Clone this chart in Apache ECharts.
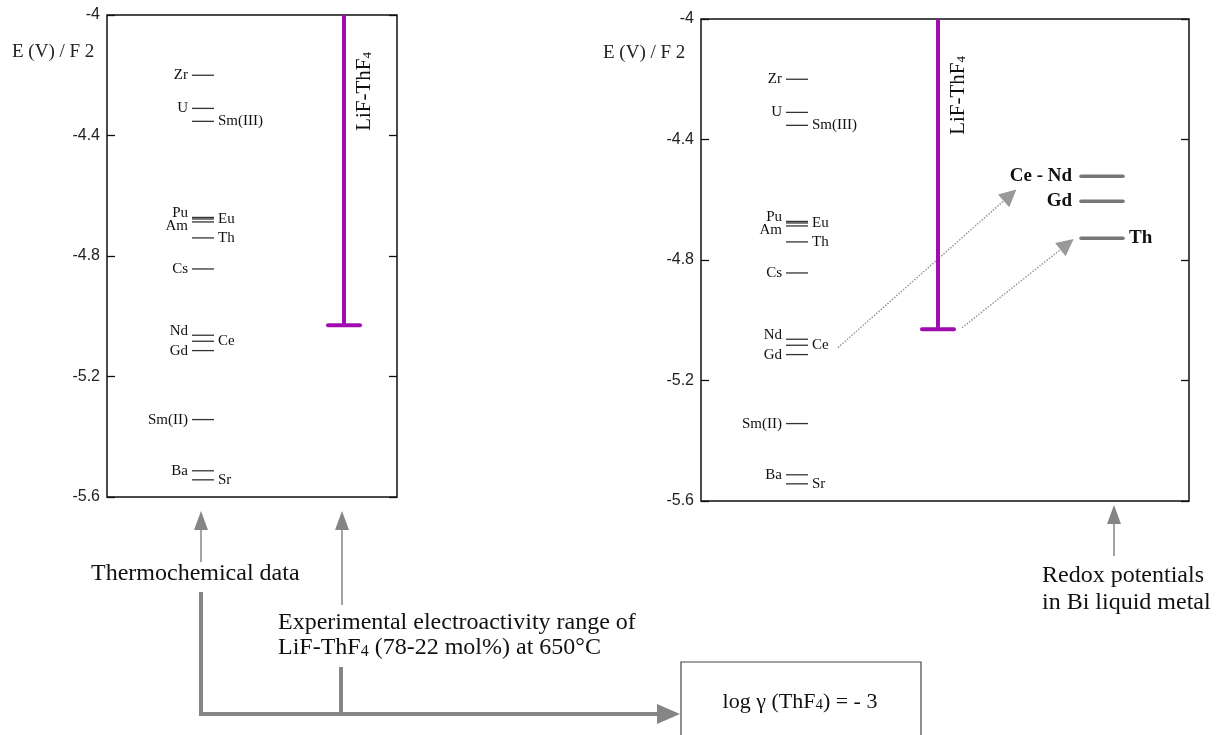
<!DOCTYPE html>
<html>
<head>
<meta charset="utf-8">
<script src="https://cdn.jsdelivr.net/npm/echarts@6/dist/echarts.min.js"></script>
<style>
  html, body { margin: 0; padding: 0; background: #fff; }
  #chart { width: 1218px; height: 735px; }
</style>
</head>
<body>
<div id="chart"></div>
<script>
// thermochemical redox potentials, E (V) / F2
const elements = ['Zr', 'U', 'Sm(III)', 'Pu', 'Eu', 'Am', 'Th', 'Cs', 'Nd', 'Ce', 'Gd', 'Sm(II)', 'Ba', 'Sr']
const potentials = [-4.20, -4.31, -4.353, -4.672, -4.677, -4.687, -4.74, -4.843, -5.063, -5.083, -5.114, -5.343, -5.513, -5.543]
// experimental electroactivity range of LiF-ThF4 (top, bottom)
const rangeLimits = [-4.0, -5.03]
// redox potentials in Bi liquid metal
const biElements = ['Ce - Nd', 'Gd', 'Th']
const biPotentials = [-4.522, -4.605, -4.728]
const yMin = -5.6
const yMax = -4
const yStep = 0.4

// layout (pixels from each panel's left edge)
const levelX = [85, 107]
const rangeX = 237
const capHalf = 16
const biX = [380, 422]
const rightLabels = ['Sm(III)', 'Eu', 'Th', 'Ce', 'Sr']
const labelShift = { Pu: -4, Am: 4, Nd: -4 }
const purple = '#a00cb0'
const gray = '#858585'
const serif = '"Liberation Serif", "DejaVu Serif", serif'

const grids = [
  { left: 107, top: 15, width: 290, height: 482 },
  { left: 701, top: 19, width: 488, height: 482 }
]

function levelItem (params, api) {
  const i = api.value(0)
  const v = api.value(1)
  const name = elements[i]
  const p0 = api.coord([levelX[0], v])
  const p1 = api.coord([levelX[1], v])
  const onRight = rightLabels.includes(name)
  return {
    type: 'group',
    children: [
      { type: 'line', shape: { x1: p0[0], y1: p0[1], x2: p1[0], y2: p1[1] }, style: { stroke: '#333', lineWidth: 1.3 } },
      {
        type: 'text',
        x: onRight ? p1[0] + 4 : p0[0] - 4,
        y: p0[1] + (labelShift[name] || 0),
        style: { text: name, fill: '#111', font: '15px ' + serif, align: onRight ? 'left' : 'right', verticalAlign: 'middle' }
      }
    ]
  }
}

function rangeItem (params, api) {
  const top = api.coord([rangeX, api.value(0)])
  const bot = api.coord([rangeX, api.value(1)])
  return {
    type: 'group',
    children: [
      { type: 'line', shape: { x1: top[0], y1: top[1], x2: bot[0], y2: bot[1] }, style: { stroke: purple, lineWidth: 4 } },
      { type: 'line', shape: { x1: bot[0] - capHalf, y1: bot[1], x2: bot[0] + capHalf, y2: bot[1] }, style: { stroke: purple, lineWidth: 4, lineCap: 'round' } },
      {
        type: 'text',
        x: top[0] + 20,
        y: top[1] + 37,
        rotation: Math.PI / 2,
        style: {
          text: 'LiF-ThF{s|4}',
          fontFamily: serif,
          fontSize: 21,
          fill: '#111',
          align: 'right',
          verticalAlign: 'middle',
          rich: { s: { fontFamily: serif, fontSize: 13, verticalAlign: 'bottom', fill: '#111' } }
        }
      }
    ]
  }
}

function biItem (params, api) {
  const i = api.value(0)
  const v = api.value(1)
  const name = biElements[i]
  const p0 = api.coord([biX[0], v])
  const p1 = api.coord([biX[1], v])
  const onRight = name === 'Th'
  return {
    type: 'group',
    children: [
      { type: 'line', shape: { x1: p0[0], y1: p0[1], x2: p1[0], y2: p1[1] }, style: { stroke: '#777', lineWidth: 3.5, lineCap: 'round' } },
      {
        type: 'text',
        x: onRight ? p1[0] + 6 : p0[0] - 9,
        y: p0[1],
        style: { text: name, fill: '#111', font: 'bold 19px ' + serif, align: onRight ? 'left' : 'right', verticalAlign: 'middle' }
      }
    ]
  }
}

const xAxis = grids.map((g, i) => ({ gridIndex: i, type: 'value', min: 0, max: g.width, show: false }))
const yAxis = []
grids.forEach((g, i) => {
  yAxis.push({
    gridIndex: i,
    type: 'value',
    min: yMin,
    max: yMax,
    interval: yStep,
    axisLine: { show: false },
    axisTick: { show: true, inside: true, length: 8, lineStyle: { color: '#111', width: 1.3 } },
    splitLine: { show: false },
    axisLabel: { margin: 7, color: '#222', fontFamily: '"Liberation Sans", Arial, sans-serif', fontSize: 16 }
  })
  yAxis.push({
    gridIndex: i,
    type: 'value',
    position: 'right',
    min: yMin,
    max: yMax,
    interval: yStep,
    axisLine: { show: false },
    axisTick: { show: true, inside: true, length: 8, lineStyle: { color: '#111', width: 1.3 } },
    splitLine: { show: false },
    axisLabel: { show: false }
  })
})

const levelData = potentials.map((v, i) => [i, v])
const series = []
grids.forEach((g, i) => {
  series.push({ type: 'custom', xAxisIndex: i, yAxisIndex: i * 2, data: levelData, renderItem: levelItem, silent: true })
  series.push({ type: 'custom', xAxisIndex: i, yAxisIndex: i * 2, data: [rangeLimits], renderItem: rangeItem, silent: true, z: 3 })
})
series.push({ type: 'custom', xAxisIndex: 1, yAxisIndex: 2, data: biPotentials.map((v, i) => [i, v]), renderItem: biItem, silent: true })

const ceValue = potentials[elements.indexOf('Ce')]
series.push({
  type: 'lines',
  coordinateSystem: 'cartesian2d',
  xAxisIndex: 1,
  yAxisIndex: 2,
  silent: true,
  symbol: ['none', 'triangle'],
  symbolSize: 17,
  lineStyle: { type: 'dotted', width: 1.5, color: '#999', opacity: 1 },
  itemStyle: { color: gray },
  z: 1,
  data: [
    { coords: [[137, ceValue - 0.008], [309, biPotentials[0] - 0.063]] },
    { coords: [[261, rangeLimits[1] + 0.005], [366, biPotentials[2] - 0.02]] }
  ]
})

function upArrow (x, tipY, tailY) {
  return [
    { type: 'line', shape: { x1: x, y1: tipY + 16, x2: x, y2: tailY }, style: { stroke: gray, lineWidth: 1.5 } },
    { type: 'polygon', shape: { points: [[x, tipY], [x - 7, tipY + 19], [x + 7, tipY + 19]] }, style: { fill: gray } }
  ]
}

const subRich = { s: { fontFamily: serif, fontSize: 16, verticalAlign: 'bottom', fill: '#111' } }

const graphic = [
  { type: 'text', x: 12, y: 52, style: { text: 'E (V) / F 2', font: '19px ' + serif, fill: '#222', verticalAlign: 'middle' } },
  { type: 'text', x: 603, y: 53, style: { text: 'E (V) / F 2', font: '19px ' + serif, fill: '#222', verticalAlign: 'middle' } },
  ...upArrow(201, 511, 562),
  ...upArrow(342, 511, 605),
  ...upArrow(1114, 505, 556),
  { type: 'text', x: 91, y: 574, style: { text: 'Thermochemical data', font: '24px ' + serif, fill: '#111', verticalAlign: 'middle' } },
  {
    type: 'text',
    x: 278,
    y: 610,
    style: {
      text: 'Experimental electroactivity range of\nLiF-ThF{s|4} (78-22 mol%) at 650°C',
      fontFamily: serif,
      fontSize: 24,
      lineHeight: 25,
      fill: '#111',
      verticalAlign: 'top',
      rich: subRich
    }
  },
  {
    type: 'text',
    x: 1042,
    y: 562,
    style: { text: 'Redox potentials\nin Bi liquid metal', fontFamily: serif, fontSize: 24, lineHeight: 27, fill: '#111', verticalAlign: 'top' }
  },
  { type: 'polyline', shape: { points: [[201, 592], [201, 714], [660, 714]] }, style: { stroke: gray, lineWidth: 4, fill: null } },
  { type: 'line', shape: { x1: 341, y1: 667, x2: 341, y2: 714 }, style: { stroke: gray, lineWidth: 4 } },
  { type: 'polygon', shape: { points: [[680, 714], [657, 704], [657, 724]] }, style: { fill: gray } },
  { type: 'rect', shape: { x: 681, y: 662, width: 240, height: 90 }, style: { fill: 'none', stroke: '#444', lineWidth: 1.2 } },
  {
    type: 'text',
    x: 800,
    y: 702,
    style: {
      text: 'log γ (ThF{s|4}) = - 3',
      fontFamily: serif,
      fontSize: 22,
      fill: '#111',
      align: 'center',
      verticalAlign: 'middle',
      rich: { s: { fontFamily: serif, fontSize: 15, verticalAlign: 'bottom', fill: '#111' } }
    }
  }
]

const chart = echarts.init(document.getElementById('chart'))
chart.setOption({
  animation: false,
  backgroundColor: '#fff',
  grid: grids.map(g => ({ ...g, show: true, borderColor: '#111', borderWidth: 1.5, backgroundColor: 'transparent' })),
  xAxis,
  yAxis,
  series,
  graphic
})
</script>
</body>
</html>
